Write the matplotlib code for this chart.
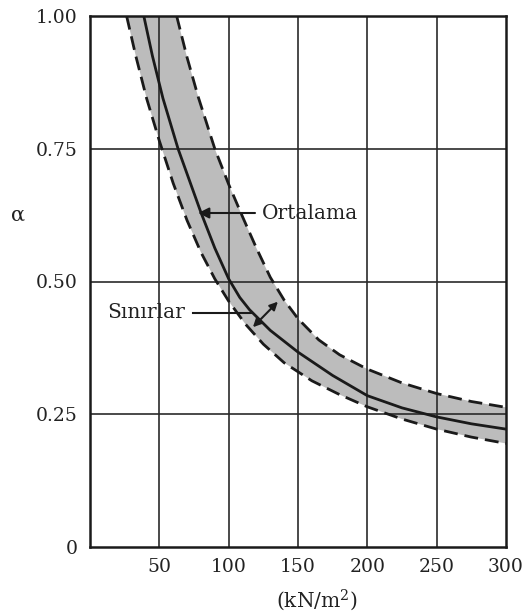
import matplotlib
matplotlib.use("Agg")
import matplotlib.pyplot as plt

# ---- data ----
mean_x = [38.8, 45, 52.6, 63.5, 80, 90, 100, 108, 115, 130, 150, 175, 200, 225, 250, 275, 300]
mean_y = [1.00, 0.925, 0.845, 0.75, 0.63, 0.563, 0.505, 0.47, 0.447, 0.408, 0.367, 0.323, 0.285, 0.262, 0.245, 0.232, 0.222]

upper_x = [62.5, 70, 78, 90, 100, 110, 120, 130, 140, 150, 165, 180, 200, 225, 250, 275, 300]
upper_y = [1.00, 0.922, 0.848, 0.75, 0.683, 0.622, 0.563, 0.508, 0.465, 0.43, 0.39, 0.362, 0.335, 0.309, 0.289, 0.274, 0.263]

lower_x = [26.4, 33, 40.8, 50, 60, 70, 80, 90, 100, 112, 125, 140, 160, 180, 200, 225, 250, 275, 300]
lower_y = [1.00, 0.925, 0.845, 0.765, 0.685, 0.615, 0.555, 0.505, 0.463, 0.42, 0.382, 0.347, 0.313, 0.287, 0.264, 0.241, 0.222, 0.207, 0.195]

x_ticks = [50, 100, 150, 200, 250, 300]
x_labels = ["50", "100", "150", "200", "250", "300"]
y_ticks = [0, 0.25, 0.50, 0.75, 1.00]
y_labels = ["0", "0.25", "0.50", "0.75", "1.00"]

label_mean = "Ortalama"
label_bounds = "Sınırlar"
x_title = "(kN/m$^2$)"
y_title = "α"

# ---- figure ----
plt.rcParams['font.family'] = ['DejaVu Serif']
plt.rcParams['mathtext.fontset'] = 'dejavuserif'
fig = plt.figure(figsize=(5.22, 6.12), dpi=100)
ax = fig.add_axes([90/522, 1-547/612, (506-90)/522, (547-16)/612])
ax.set_xlim(0, 300)
ax.set_ylim(0, 1.0)

# band
poly_x = upper_x + lower_x[::-1]
poly_y = upper_y + lower_y[::-1]
ax.fill(poly_x, poly_y, color='#bcbcbc', zorder=1, lw=0)

# grid
for xv in x_ticks[:-1]:
    ax.axvline(xv, color='#2a2a2a', lw=1.2, zorder=2)
for yv in y_ticks[1:-1]:
    ax.axhline(yv, color='#2a2a2a', lw=1.2, zorder=2)

ax.plot(upper_x, upper_y, color='#1a1a1a', lw=2.0, ls=(0, (5, 2.5)), zorder=3)
ax.plot(lower_x, lower_y, color='#1a1a1a', lw=2.0, ls=(0, (5, 2.5)), zorder=3)
ax.plot(mean_x, mean_y, color='#1a1a1a', lw=2.0, zorder=3)

for s in ax.spines.values():
    s.set_linewidth(1.8)
    s.set_color('#1a1a1a')

ax.set_xticks(x_ticks)
ax.set_xticklabels(x_labels)
ax.set_yticks(y_ticks)
ax.set_yticklabels(y_labels)
ax.tick_params(length=0, labelsize=13.5, colors='#222222')
ax.tick_params(axis='x', pad=8)
ax.tick_params(axis='y', pad=9)

# annotations
ax.annotate("", xy=(78, 0.629), xytext=(119, 0.629),
            arrowprops=dict(arrowstyle='-|>', color='#1a1a1a', lw=1.5,
                            mutation_scale=16, shrinkA=0, shrinkB=0), zorder=4)
ax.text(124, 0.629, label_mean, fontsize=14.5, va='center', ha='left', color='#222222')

ax.text(68.5, 0.441, label_bounds, fontsize=14.5, va='center', ha='right', color='#222222')
ax.plot([74, 116], [0.441, 0.441], color='#1a1a1a', lw=1.5, zorder=4)
ax.annotate("", xy=(117.5, 0.414), xytext=(135.5, 0.462),
            arrowprops=dict(arrowstyle='<|-|>', color='#1a1a1a', lw=1.5,
                            mutation_scale=12, shrinkA=0, shrinkB=0), zorder=4)

fig.text(18/522, 1-215/612, y_title, fontsize=15, ha='center', va='center', color='#222222')
fig.text(317/522, 1-600/612, x_title, fontsize=14.5, ha='center', va='center', color='#222222')

fig.savefig("out.png", dpi=100)
